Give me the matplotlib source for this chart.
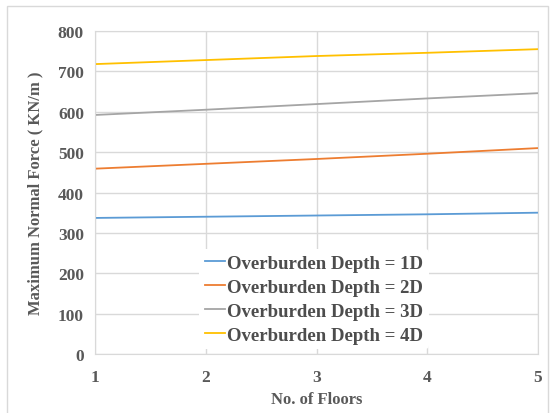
import matplotlib.pyplot as plt
from matplotlib.patches import Rectangle

floors = [1, 2, 3, 4, 5]
depth_1d = [337, 340, 343, 346, 350]
depth_2d = [459, 471, 483, 496, 510]
depth_3d = [592, 605, 619, 633, 646]
depth_4d = [718, 728, 738, 746, 755]
labels = ['Overburden Depth = 1D', 'Overburden Depth = 2D',
          'Overburden Depth = 3D', 'Overburden Depth = 4D']
colours = ['#5B9BD5', '#ED7D31', '#A5A5A5', '#FFC000']

plt.rcParams['font.family'] = ['Liberation Serif', 'DejaVu Serif']

W, H = 554, 414
fig = plt.figure(figsize=(W / 100, H / 100), dpi=100)
ax = fig.add_axes([95 / W, 1 - 355 / H, (538 - 95) / W, (355 - 32) / H])

# outer chart-area border
fig.patches.append(Rectangle((7 / W, -0.01), (548 - 7) / W, 1 - 7 / H + 0.01,
                             transform=fig.transFigure, fill=False,
                             edgecolor='#D9D9D9', linewidth=1))

for ys, lab, c in zip([depth_1d, depth_2d, depth_3d, depth_4d], labels, colours):
    ax.plot(floors, ys, color=c, linewidth=1.3, label=lab)

ax.set_xlim(1, 5)
ax.set_ylim(0, 800)
ax.set_xticks(floors)
ax.set_yticks(range(0, 801, 100))
ax.grid(True, color='#D9D9D9', linewidth=1)
ax.set_axisbelow(True)
for s in ax.spines.values():
    s.set_color('#D9D9D9')
ax.tick_params(length=0, labelsize=12.5, labelcolor='#595959', pad=8)
ax.tick_params(axis='x', pad=11)
for t in ax.get_xticklabels() + ax.get_yticklabels():
    t.set_fontweight('bold')

ax.set_xlabel('No. of Floors', fontsize=12, fontweight='bold', color='#595959', labelpad=4)
ax.set_ylabel('Maximum Normal Force ( KN/m )', fontsize=12, fontweight='bold',
              color='#595959', labelpad=10)

leg = ax.legend(loc='lower left', bbox_to_anchor=(0.235, 0.015), frameon=True,
                prop={'size': 13.5, 'weight': 'bold'}, handlelength=1.1, handletextpad=0.1,
                labelspacing=0.36, borderpad=0.3, borderaxespad=0)
leg.get_frame().set_edgecolor('none')
leg.get_frame().set_facecolor('white')
leg.get_frame().set_alpha(1)
for t in leg.get_texts():
    t.set_color('#4D4D4D')

fig.savefig('out.png', dpi=100)
